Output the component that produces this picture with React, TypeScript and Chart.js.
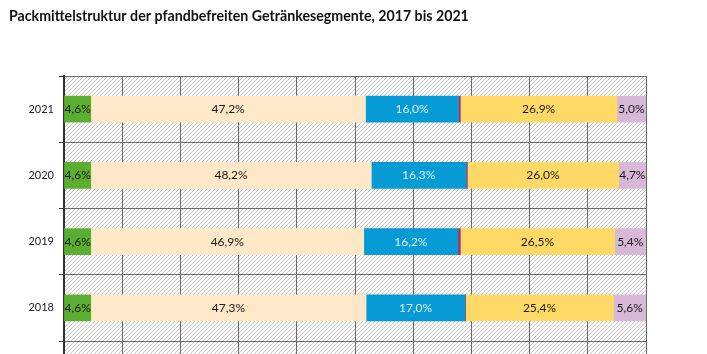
import React, { useEffect, useRef } from 'react';
import { Chart, registerables } from 'chart.js';

Chart.register(...registerables);

const titleText = 'Packmittelstruktur der pfandbefreiten Getränkesegmente, 2017 bis 2021';
const years = [2021, 2020, 2019, 2018];
const rowBoundaries = [2021.5, 2020.5, 2019.5, 2018.5, 2017.5];
const seriesA = [4.6, 4.6, 4.6, 4.6];
const seriesB = [47.2, 48.2, 46.9, 47.3];
const seriesC = [16.0, 16.3, 16.2, 17.0];
const seriesD = [0.3, 0.2, 0.4, 0.1];
const seriesE = [26.9, 26.0, 26.5, 25.4];
const seriesF = [5.0, 4.7, 5.4, 5.6];

const fmt = (v: number) => v.toFixed(1).replace('.', ',') + '%';

const hatchPlugin = {
  id: 'hatch',
  beforeDraw(chart: any) {
    const { ctx, chartArea } = chart;
    const p = document.createElement('canvas');
    p.width = 4;
    p.height = 4;
    const pc = p.getContext('2d')!;
    pc.fillStyle = '#ffffff';
    pc.fillRect(0, 0, 4, 4);
    pc.strokeStyle = '#c4c4c4';
    pc.lineWidth = 1;
    pc.beginPath();
    pc.moveTo(0, 4);
    pc.lineTo(4, 0);
    pc.moveTo(-1, 1);
    pc.lineTo(1, -1);
    pc.moveTo(3, 5);
    pc.lineTo(5, 3);
    pc.stroke();
    const pat = ctx.createPattern(p, 'repeat');
    ctx.save();
    ctx.fillStyle = pat;
    ctx.fillRect(chartArea.left, chartArea.top, chartArea.right - chartArea.left, chartArea.bottom - chartArea.top);
    ctx.restore();
  },
};

const textPlugin = {
  id: 'texts',
  afterDraw(chart: any) {
    const { ctx } = chart;
    const yScale = chart.scales.y;
    ctx.save();
    ctx.font = 'bold 14.2px Lato';
    ctx.fillStyle = '#111111';
    ctx.textAlign = 'left';
    ctx.textBaseline = 'middle';
    ctx.fillText(titleText, 9, 16);
    ctx.font = '11px Lato';
    ctx.fillStyle = '#222222';
    ctx.textAlign = 'right';
    years.forEach((yr) => {
      ctx.fillText(String(yr), 54, yScale.getPixelForValue(yr));
    });
    ctx.font = '12px Lato';
    ctx.textAlign = 'center';
    chart.data.datasets.forEach((ds: any, di: number) => {
      if (!ds.showLabel) return;
      const meta = chart.getDatasetMeta(di);
      meta.data.forEach((el: any, i: number) => {
        const { x, base, y } = el.getProps(['x', 'base', 'y'], true);
        ctx.fillStyle = ds.labelColor;
        ctx.fillText(fmt(ds.data[i].x), (x + base) / 2, y);
      });
    });
    ctx.restore();
  },
};

export default function App() {
  const ref = useRef<HTMLCanvasElement>(null);
  useEffect(() => {
    const mk = (label: string, vals: number[], color: string, labelColor: string, showLabel: boolean) => ({
      label,
      data: vals.map((v, i) => ({ x: v, y: years[i] })),
      backgroundColor: color,
      borderWidth: 0,
      barThickness: 26,
      labelColor,
      showLabel,
    });
    const chart = new Chart(ref.current!, {
      type: 'bar',
      data: {
        datasets: [
          mk('A', seriesA, '#5BAF30', '#1a1a1a', true),
          mk('B', seriesB, '#FEE8C8', '#1a1a1a', true),
          mk('C', seriesC, '#079BD6', '#dff1fb', true),
          mk('D', seriesD, '#B3296A', '#1a1a1a', false),
          mk('E', seriesE, '#FFD966', '#1a1a1a', true),
          mk('F', seriesF, '#D8B8D8', '#1a1a1a', true),
        ] as any,
      },
      options: {
        indexAxis: 'y',
        animation: false,
        responsive: true,
        maintainAspectRatio: false,
        layout: { padding: { top: 76, right: 61, left: 0, bottom: 0 } },
        plugins: { legend: { display: false }, tooltip: { enabled: false }, title: { display: false } },
        scales: {
          x: {
            type: 'linear',
            position: 'bottom',
            stacked: true,
            min: 0,
            max: 100,
            offset: false,
            ticks: { display: false, stepSize: 10 },
            grid: { color: '#6a6a6a', lineWidth: 1, drawTicks: false, offset: false },
            border: { display: false },
            afterFit: (axis: any) => { axis.height = 0; },
          },
          y: {
            type: 'linear',
            stacked: true,
            min: 2017.304,
            max: 2021.5,
            offset: false,
            afterBuildTicks: (axis: any) => {
              axis.ticks = rowBoundaries.map((v) => ({ value: v }));
            },
            ticks: { display: false },
            grid: {
              offset: false,
              color: '#6a6a6a',
              tickColor: '#333333',
              tickLength: 5,
              lineWidth: 1,
            },
            border: { display: true, color: '#333333', width: 2 },
            afterFit: (axis: any) => { axis.width = 64; },
          },
        },
      } as any,
      plugins: [hatchPlugin, textPlugin],
    });
    return () => chart.destroy();
  }, []);
  return (
    <div style={{ position: 'fixed', left: 0, top: 0, width: 707, height: 354, background: '#fff' }}>
      <canvas ref={ref} />
    </div>
  );
}
